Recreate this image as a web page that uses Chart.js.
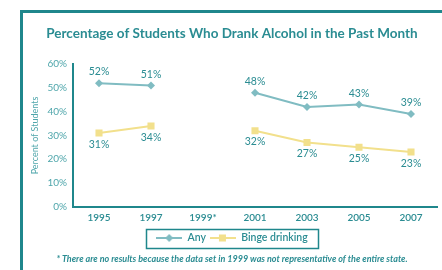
<!DOCTYPE html>
<html><head><meta charset="utf-8">
<script src="https://cdn.jsdelivr.net/npm/chart.js@4/dist/chart.umd.min.js"></script>
<style>html,body{margin:0;padding:0;background:#fff;}#wrap{width:442px;height:270px;position:relative;}</style>
</head><body><div id="wrap"><canvas id="c" width="442" height="270"></canvas></div>
<script>
const years = ['1995','1997','1999*','2001','2003','2005','2007'];
const anyValues = [52, 51, null, 48, 42, 43, 39];
const bingeValues = [31, 34, null, 32, 27, 25, 23];
const yTicks = [0, 10, 20, 30, 40, 50, 60];

const TEAL = '#1f878c';
const TEXT = '#2a8c92';
const LIGHT = '#4fa6ab';
const ANY_C = '#80bcc2';
const BINGE_C = '#f2e08c';
const FONT = 'Lato, "Open Sans", sans-serif';

function legendImg(color, style) {
  const c = document.createElement('canvas');
  c.width = 26; c.height = 10;
  const x = c.getContext('2d');
  x.strokeStyle = color; x.lineWidth = 2;
  x.beginPath(); x.moveTo(0, 5); x.lineTo(26, 5); x.stroke();
  x.fillStyle = color;
  if (style === 'diamond') {
    x.beginPath(); x.moveTo(13, 1); x.lineTo(17, 5); x.lineTo(13, 9); x.lineTo(9, 5); x.closePath(); x.fill();
  } else {
    x.fillRect(9, 1.5, 7, 7);
  }
  return c;
}
const imgAny = legendImg(ANY_C, 'diamond');
const imgBinge = legendImg(BINGE_C, 'square');

const decor = {
  id: 'decor',
  beforeDraw(chart) {
    const ctx = chart.ctx;
    ctx.save();
    ctx.fillStyle = TEAL;
    ctx.fillRect(20, 10, 422, 3);
    ctx.fillRect(20, 10, 3, 260);
    ctx.restore();
  },
  afterDraw(chart) {
    const ctx = chart.ctx;
    const hb = chart.legend.legendHitBoxes;
    if (hb && hb.length) {
      const l = hb[0].left - 10, r = hb[hb.length - 1].left + hb[hb.length - 1].width + 10;
      const t = hb[0].top - 4, b = hb[0].top + hb[0].height + 4;
      ctx.save();
      ctx.strokeStyle = TEAL; ctx.lineWidth = 1.5;
      ctx.strokeRect(Math.round(l) + 0.5, Math.round(t) + 0.5, Math.round(r - l), Math.round(b - t));
      ctx.restore();
    }
    ctx.save();
    ctx.font = '10.5px ' + FONT;
    ctx.fillStyle = TEXT;
    ctx.textAlign = 'center';
    chart.data.datasets.forEach((ds, i) => {
      const meta = chart.getDatasetMeta(i);
      meta.data.forEach((pt, j) => {
        const v = ds.data[j];
        if (v === null || v === undefined) return;
        if (i === 0) { ctx.textBaseline = 'bottom'; ctx.fillText(v + '%', pt.x, pt.y - 6); }
        else { ctx.textBaseline = 'top'; ctx.fillText(v + '%', pt.x, pt.y + 6); }
      });
    });
    ctx.restore();
  }
};

new Chart(document.getElementById('c'), {
  type: 'line',
  data: {
    labels: years,
    datasets: [
      { label: 'Any', data: anyValues, borderColor: ANY_C, backgroundColor: ANY_C, borderWidth: 2,
        pointStyle: 'rectRot', pointRadius: 4, pointBackgroundColor: ANY_C, pointBorderWidth: 0, spanGaps: false, tension: 0 },
      { label: 'Binge drinking', data: bingeValues, borderColor: BINGE_C, backgroundColor: BINGE_C, borderWidth: 2,
        pointStyle: 'rect', pointRadius: 5, pointBackgroundColor: BINGE_C, pointBorderWidth: 0, spanGaps: false, tension: 0 }
    ]
  },
  options: {
    responsive: false,
    animation: false,
    devicePixelRatio: 1,
    layout: { padding: { left: 22, right: 0, top: 16, bottom: 4 } },
    plugins: {
      title: { display: true, text: 'Percentage of Students Who Drank Alcohol in the Past Month',
        color: TEXT, font: { family: FONT, size: 13.5, weight: 'bold' }, padding: { top: 10, bottom: 22 } },
      subtitle: { display: true, position: 'bottom', text: '* There are no results because the data set in 1999 was not representative of the entire state.',
        color: TEXT, font: { family: FONT, size: 9, weight: 'bold', style: 'italic' }, padding: { top: 0, bottom: 2 } },
      legend: { position: 'bottom', labels: {
          usePointStyle: true, pointStyleWidth: 26, boxHeight: 10, padding: 4, color: TEXT,
          font: { family: FONT, size: 10.5, weight: '600' },
          generateLabels(chart) {
            return chart.data.datasets.map((ds, i) => ({
              text: ds.label, pointStyle: i === 0 ? imgAny : imgBinge, fontColor: TEXT,
              datasetIndex: i, hidden: false, lineWidth: 0, strokeStyle: 'transparent', fillStyle: 'transparent'
            }));
          } } },
      tooltip: { enabled: false }
    },
    scales: {
      x: { offset: true, grid: { display: false, drawTicks: false },
        border: { color: TEAL, width: 2 },
        ticks: { color: TEXT, padding: 5, font: { family: FONT, size: 10, weight: '600' }, maxRotation: 0 } },
      y: { min: 0, max: 60, grid: { display: false, drawTicks: false },
        border: { color: TEAL, width: 2 },
        afterBuildTicks(s) { s.ticks = yTicks.map(v => ({ value: v })); },
        afterFit(s) { s.width = 51; },
        title: { display: true, text: 'Percent of Students', color: LIGHT, font: { family: FONT, size: 9 }, padding: { top: 8, bottom: 0 } },
        ticks: { color: LIGHT, padding: 6, font: { family: FONT, size: 10 }, callback: v => v + '%' } }
    }
  },
  plugins: [decor]
});
</script></body></html>
